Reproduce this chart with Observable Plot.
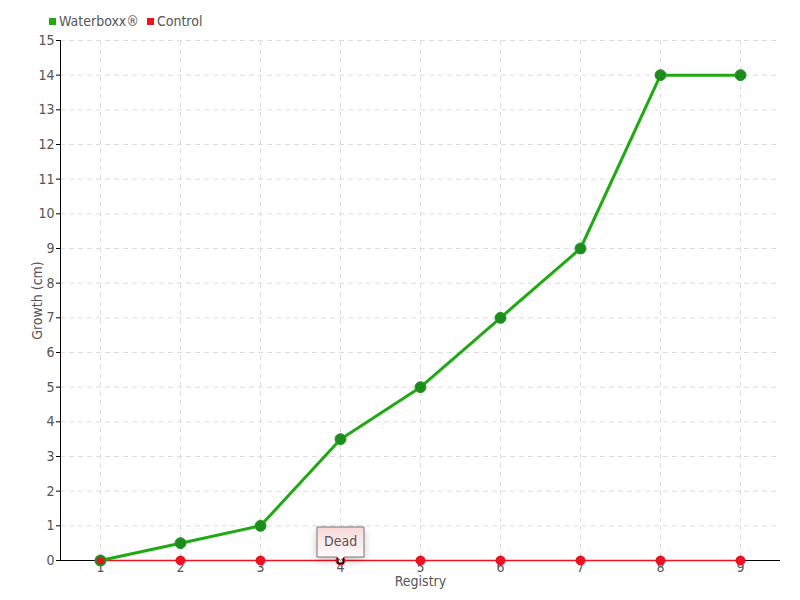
<!DOCTYPE html>
<html>
<head>
<meta charset="utf-8">
<script src="https://cdn.jsdelivr.net/npm/d3@7"></script>
<script src="https://cdn.jsdelivr.net/npm/@observablehq/plot@0.6"></script>
<style>
  body { margin: 0; background: #fff; font-family: "DejaVu Sans Condensed", "DejaVu Sans", sans-serif; font-stretch: condensed; }
  #wrap { position: relative; width: 800px; height: 600px; }
  #legend { position: absolute; left: 49px; top: 13px; font-size: 14px; color: #555; display: flex; gap: 8px; }
  #legend span.sw { display: inline-block; width: 7px; height: 7px; margin-right: 3px; vertical-align: 1px; }
  svg text { font-stretch: condensed; }
</style>
</head>
<body>
<div id="wrap">
  <div id="legend"></div>
  <div id="chart"></div>
</div>
<script>
const registry = [1, 2, 3, 4, 5, 6, 7, 8, 9];
const waterboxx = [0, 0.5, 1, 3.5, 5, 7, 9, 14, 14];
const control = [0, 0, 0, 0, 0, 0, 0, 0, 0];
const yTicks = [0,1,2,3,4,5,6,7,8,9,10,11,12,13,14,15];
const seriesNames = ["Waterboxx®", "Control"];
const seriesColors = ["#1faa14", "#ee1122"];
const notes = [{registry: 4, value: 0, text: "Dead"}];

const wData = registry.map((r, i) => ({registry: r, value: waterboxx[i]}));
const cData = registry.map((r, i) => ({registry: r, value: control[i]}));

const legend = document.getElementById("legend");
seriesNames.forEach((n, i) => {
  const d = document.createElement("div");
  d.innerHTML = `<span class="sw" style="background:${seriesColors[i]}"></span>${n}`;
  legend.appendChild(d);
});

const font = '"DejaVu Sans Condensed", "DejaVu Sans", sans-serif';
const chart = Plot.plot({
  width: 800,
  height: 600,
  marginLeft: 60,
  marginRight: 20,
  marginTop: 40,
  marginBottom: 40,
  style: {fontFamily: font, fontSize: "14px", color: "#555", background: "#fff"},
  x: {domain: [0.5, 9.5], ticks: registry},
  y: {domain: [0, 15], ticks: yTicks},
  marks: [
    Plot.gridX(registry, {stroke: "#ddd", strokeOpacity: 1, strokeDasharray: "5,4"}),
    Plot.gridY(yTicks.slice(1), {stroke: "#ddd", strokeOpacity: 1, strokeDasharray: "5,4"}),
    Plot.ruleX([0.5], {stroke: "#000"}),
    Plot.ruleY([0], {stroke: "#000"}),
    Plot.axisY({ticks: yTicks, tickSize: 4, tickPadding: 2, stroke: "#000", fill: "#555", fontSize: 14,
      label: "Growth (cm)", labelAnchor: "center", labelArrow: "none", labelOffset: 28}),
    Plot.axisX({ticks: registry, tickSize: 5, tickPadding: -3, stroke: "#000", fill: "#555", fontSize: 14,
      label: "Registry", labelAnchor: "center", labelArrow: "none", labelOffset: 25}),
    Plot.line(cData, {x: "registry", y: "value", stroke: seriesColors[1], strokeWidth: 1.5}),
    Plot.line(wData, {x: "registry", y: "value", stroke: seriesColors[0], strokeWidth: 3}),
    Plot.dot(cData, {x: "registry", y: "value", r: 4.5, fill: seriesColors[1], stroke: "#dd1020", strokeWidth: 1}),
    Plot.dot(wData, {x: "registry", y: "value", r: 5.5, fill: "#1c8c1c", stroke: "#2a9a22", strokeWidth: 1}),
    Plot.dot(cData.filter((d, i) => i === 0), {x: "registry", y: "value", r: 4.5, fill: seriesColors[1], stroke: "#1c8c1c", strokeWidth: 1.5}),
    Plot.dot(notes, {x: "registry", y: "value", symbol: "square", r: 3, fill: "#fff", stroke: "#000", strokeWidth: 1.5}),
    Plot.tip(notes, {x: "registry", y: "value", title: "text", anchor: "bottom", pointerSize: 7,
      fill: "url(#tipgrad)", stroke: "#777", fontSize: 14, textPadding: 7})
  ]
});

const svg = d3.select(chart);
const defs = svg.insert("defs", ":first-child");
const g = defs.append("linearGradient").attr("id", "tipgrad").attr("x1", 0).attr("y1", 0).attr("x2", 0).attr("y2", 1);
g.append("stop").attr("offset", "0%").attr("stop-color", "#fbd8d8");
g.append("stop").attr("offset", "100%").attr("stop-color", "#ffffff");
document.getElementById("chart").appendChild(chart);
</script>
</body>
</html>
